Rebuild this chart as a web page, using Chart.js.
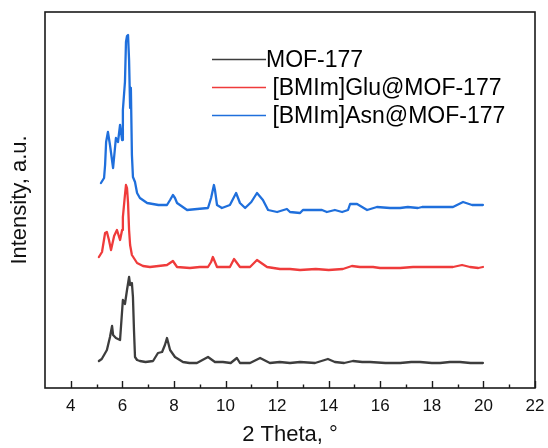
<!DOCTYPE html>
<html>
<head>
<meta charset="utf-8">
<script src="https://cdn.jsdelivr.net/npm/chart.js@4.4.0/dist/chart.umd.min.js"></script>
<style>
  html, body { margin: 0; padding: 0; background: #ffffff; }
  #c { display: block; }
</style>
</head>
<body>
<canvas id="c" width="548" height="448"></canvas>
<script>
// ---- Data (intensity in arbitrary units incl. vertical offset) ----
const seriesLabels = ["MOF-177", " [BMIm]Glu@MOF-177", " [BMIm]Asn@MOF-177"];

const mofTheta = [5.09,5.20,5.29,5.40,5.52,5.60,5.64,5.75,5.91,6.02,6.10,6.18,6.26,6.30,6.37,6.41,6.45,6.49,6.57,6.68,6.90,7.19,7.38,7.54,7.65,7.73,7.85,8.04,8.35,8.60,8.89,9.32,9.59,9.90,10.20,10.44,10.56,10.95,11.34,11.72,12.10,12.50,12.89,13.47,13.97,14.24,14.60,14.94,15.30,15.60,16.20,16.77,17.20,17.54,18.00,18.32,18.70,19.09,19.50,19.98];
const mofInt   = [27,29,33,38,51,62,53,50,48,88,84,98,111,103,105,91,58,31,28,27,26,27,35,36,43,50,38,31,26,25,25,31,26,26,25,30,25,25,30,25,26,25,26,25,29,26,25,27,26,26,25,25,26,26,25,25,26,26,25,25];

const gluTheta = [5.09,5.21,5.33,5.40,5.48,5.56,5.68,5.79,5.91,5.99,6.02,6.10,6.14,6.18,6.22,6.26,6.30,6.37,6.57,6.80,7.07,7.40,7.73,7.96,8.12,8.62,9.00,9.32,9.44,9.51,9.59,9.67,10.17,10.33,10.56,10.95,11.22,11.61,12.11,12.50,12.89,13.50,14.00,14.55,14.90,15.21,15.72,15.99,16.40,16.77,17.27,17.80,18.30,18.82,19.17,19.48,19.80,19.98];
const gluInt   = [131,136,155,156,148,138,152,158,148,158,171,193,203,200,185,158,143,133,125,122,121,122,123,127,121,120,121,121,126,131,126,121,121,129,121,121,128,121,119,119,118,119,118,119,122,121,121,120,120,120,121,121,121,121,123,121,120,121];

const asnTheta = [5.17,5.29,5.33,5.37,5.44,5.52,5.64,5.75,5.83,5.91,5.99,6.02,6.10,6.14,6.18,6.22,6.26,6.30,6.33,6.37,6.41,6.49,6.57,6.68,6.96,7.40,7.73,7.85,7.96,8.04,8.12,8.51,8.90,9.32,9.44,9.55,9.59,9.67,9.86,10.17,10.41,10.56,10.76,11.00,11.22,11.45,11.65,12.00,12.38,12.50,12.89,13.00,13.40,13.74,13.93,14.24,14.52,14.75,14.83,15.10,15.49,15.87,16.38,16.77,17.07,17.46,17.62,18.20,18.82,19.21,19.56,19.98];
const asnInt   = [205,210,223,246,256,243,220,250,246,263,248,278,306,346,352,353,328,280,300,233,211,206,195,190,185,183,183,188,193,190,185,178,179,180,190,203,198,183,180,183,195,185,180,186,195,188,178,176,179,176,175,178,178,178,176,178,176,178,184,184,178,181,180,180,181,180,181,181,181,186,183,183];

const majorTicks = [4, 6, 8, 10, 12, 14, 16, 18, 20, 22];
const minorTicks = [5, 7, 9, 11, 13, 15, 17, 19, 21];

const colors = ["#3d3d3d", "#ef3b3b", "#1f6fdc"];

function pts(xs, ys) { return xs.map((x, i) => ({ x: x, y: ys[i] })); }

const FONT = "'Liberation Sans', Arial, Helvetica, sans-serif";

// Frame, inward ticks and legend
const decor = {
  id: 'decor',
  afterDatasetsDraw(chart) {
    const { ctx, chartArea: a, scales } = chart;
    const xs = scales.x;
    ctx.save();
    ctx.strokeStyle = '#1a1a1a';
    ctx.lineWidth = 1.6;
    ctx.strokeRect(a.left, a.top, a.right - a.left, a.bottom - a.top);
    ctx.lineWidth = 1.4;
    ctx.beginPath();
    majorTicks.forEach(v => {
      const px = Math.round(xs.getPixelForValue(v)) + 0.5;
      ctx.moveTo(px, a.bottom); ctx.lineTo(px, a.bottom - 7);
    });
    minorTicks.forEach(v => {
      const px = Math.round(xs.getPixelForValue(v)) + 0.5;
      ctx.moveTo(px, a.bottom); ctx.lineTo(px, a.bottom - 3.5);
    });
    ctx.stroke();

    // legend
    const lx0 = 212, lx1 = 266, rowY = [59, 87, 115];
    ctx.font = '23px ' + FONT;
    ctx.textBaseline = 'alphabetic';
    ctx.textAlign = 'left';
    chart.data.datasets.forEach((ds, i) => {
      const y = rowY[i];
      ctx.strokeStyle = ds.borderColor;
      ctx.lineWidth = 1.6;
      ctx.beginPath();
      ctx.moveTo(lx0, y + 0.5); ctx.lineTo(lx1, y + 0.5);
      ctx.stroke();
      ctx.fillStyle = '#000000';
      ctx.fillText(ds.label, lx1, y + 8);
    });
    ctx.restore();
  }
};

new Chart(document.getElementById('c'), {
  type: 'line',
  data: {
    datasets: [
      { label: seriesLabels[0], data: pts(mofTheta, mofInt), borderColor: colors[0] },
      { label: seriesLabels[1], data: pts(gluTheta, gluInt), borderColor: colors[1] },
      { label: seriesLabels[2], data: pts(asnTheta, asnInt), borderColor: colors[2] }
    ].map(d => Object.assign(d, { borderWidth: 2.3, pointRadius: 0, tension: 0, fill: false, borderJoinStyle: 'round', borderCapStyle: 'round' }))
  },
  options: {
    responsive: false,
    devicePixelRatio: 1,
    animation: false,
    layout: { padding: { left: 0, right: 13, top: 12, bottom: 0 } },
    plugins: { legend: { display: false }, tooltip: { enabled: false } },
    scales: {
      x: {
        type: 'linear',
        min: 3, max: 22,
        afterBuildTicks: s => { s.ticks = majorTicks.map(v => ({ value: v })); },
        afterFit: s => { s.height = 60; s.paddingLeft = 0; s.paddingRight = 0; },
        grid: { display: false, drawTicks: false, tickLength: 0 },
        border: { display: false },
        ticks: { color: '#111', padding: 8, maxRotation: 0, font: { family: FONT, size: 17 } },
        title: { display: true, text: '2 Theta, °', color: '#111', padding: { top: 6, bottom: 0 }, font: { family: FONT, size: 22 } }
      },
      y: {
        type: 'linear',
        min: 0, max: 376,
        afterFit: s => { s.width = 45; s.paddingTop = 0; s.paddingBottom = 0; },
        grid: { display: false, drawTicks: false },
        border: { display: false },
        ticks: { display: false },
        title: { display: true, text: 'Intensity, a.u.', color: '#111', padding: { top: 7, bottom: 12 }, font: { family: FONT, size: 22 } }
      }
    }
  },
  plugins: [decor]
});
</script>
</body>
</html>
